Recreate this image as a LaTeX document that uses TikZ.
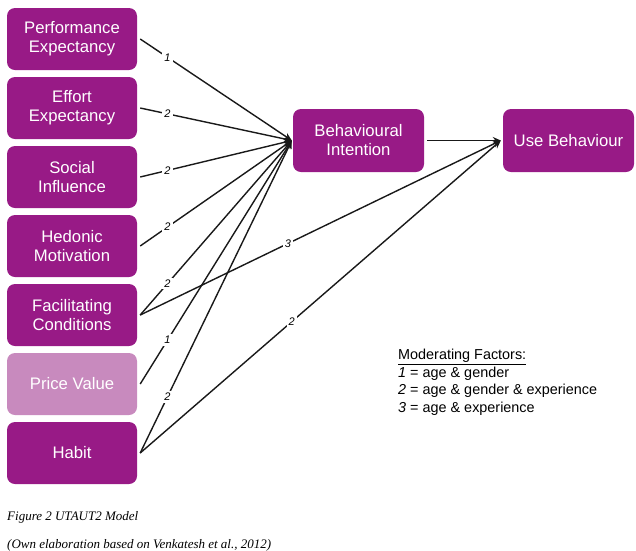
\documentclass[tikz,border=0pt]{standalone}
\usepackage{fontspec}
\setmainfont{Liberation Serif}
\setsansfont{Liberation Sans}
\usetikzlibrary{arrows.meta}
\definecolor{purp}{RGB}{152,26,134}
\definecolor{lightpurp}{RGB}{200,138,190}
\definecolor{linec}{RGB}{25,25,25}
\tikzset{
  box/.style={fill=purp, draw=none, rounded corners=8pt, text=white, align=center,
    minimum width=130pt, minimum height=62pt, inner sep=0pt,
    font=\sffamily\fontsize{16.7}{19}\selectfont},
  lightbox/.style={box, fill=lightpurp},
  conn/.style={draw=linec, line width=1.4pt, -{Stealth[length=8pt,width=7pt]}},
  lab/.style={fill=white, inner sep=2pt, font=\sffamily\itshape\fontsize{11}{12}\selectfont},
}
\begin{document}
\begin{tikzpicture}[x=1pt,y=-1pt]
\useasboundingbox (0,0) rectangle (636,550);
\clip (0,0) rectangle (636,550);
\node[box] (pe) at (72,39) {Performance\\Expectancy};
\node[box] (ee) at (72,108) {Effort\\Expectancy};
\node[box] (si) at (72,177) {Social\\Influence};
\node[box] (hm) at (72,246) {Hedonic\\Motivation};
\node[box] (fc) at (72,315) {Facilitating\\Conditions};
\node[lightbox] (pv) at (72,384) {Price Value};
\node[box] (hb) at (72,453) {Habit};
\node[box, minimum width=131pt, minimum height=63pt] (bi) at (358.5,140.5) {Behavioural\\Intention};
\node[box, minimum width=131pt, minimum height=63pt] (ub) at (568.5,140.5) {Use Behaviour};

\coordinate (bin) at ([xshift=-1pt]bi.west);
\coordinate (ubn) at ([xshift=-2pt]ub.west);
\draw[conn] ([xshift=3pt]pe.east) -- node[lab, pos=0.18] {1} (bin);
\draw[conn] ([xshift=3pt]ee.east) -- node[lab, pos=0.18] {2} (bin);
\draw[conn] ([xshift=3pt]si.east) -- node[lab, pos=0.18] {2} (bin);
\draw[conn] ([xshift=3pt]hm.east) -- node[lab, pos=0.18] {2} (bin);
\draw[conn] ([xshift=3pt]fc.east) -- node[lab, pos=0.18] {2} (bin);
\draw[conn] ([xshift=3pt]pv.east) -- node[lab, pos=0.18] {1} (bin);
\draw[conn] ([xshift=3pt]hb.east) -- node[lab, pos=0.18] {2} (bin);
\draw[conn] ([xshift=3pt]fc.east) -- node[lab, pos=0.41] {3} (ubn);
\draw[conn] ([xshift=3pt]hb.east) -- node[lab, pos=0.42] {2} (ubn);
\draw[conn] ([xshift=3pt]bi.east) -- (ubn);

\node[anchor=north west, align=left, inner sep=0pt, font=\sffamily\fontsize{14.4}{17.5}\selectfont] (mf) at (398,349)
{\underline{Moderating Factors:}\\
\textit{1} = age \& gender\\
\textit{2} = age \& gender \& experience\\
\textit{3} = age \& experience};

\node[anchor=west, inner sep=0pt, font=\itshape\fontsize{13}{15}\selectfont] (cap) at (7,517) {Figure 2 UTAUT2 Model};
\node[anchor=west, inner sep=0pt, font=\itshape\fontsize{13}{15}\selectfont] (src) at (7,545) {(Own elaboration based on Venkatesh et al., 2012)};
\end{tikzpicture}
\end{document}
